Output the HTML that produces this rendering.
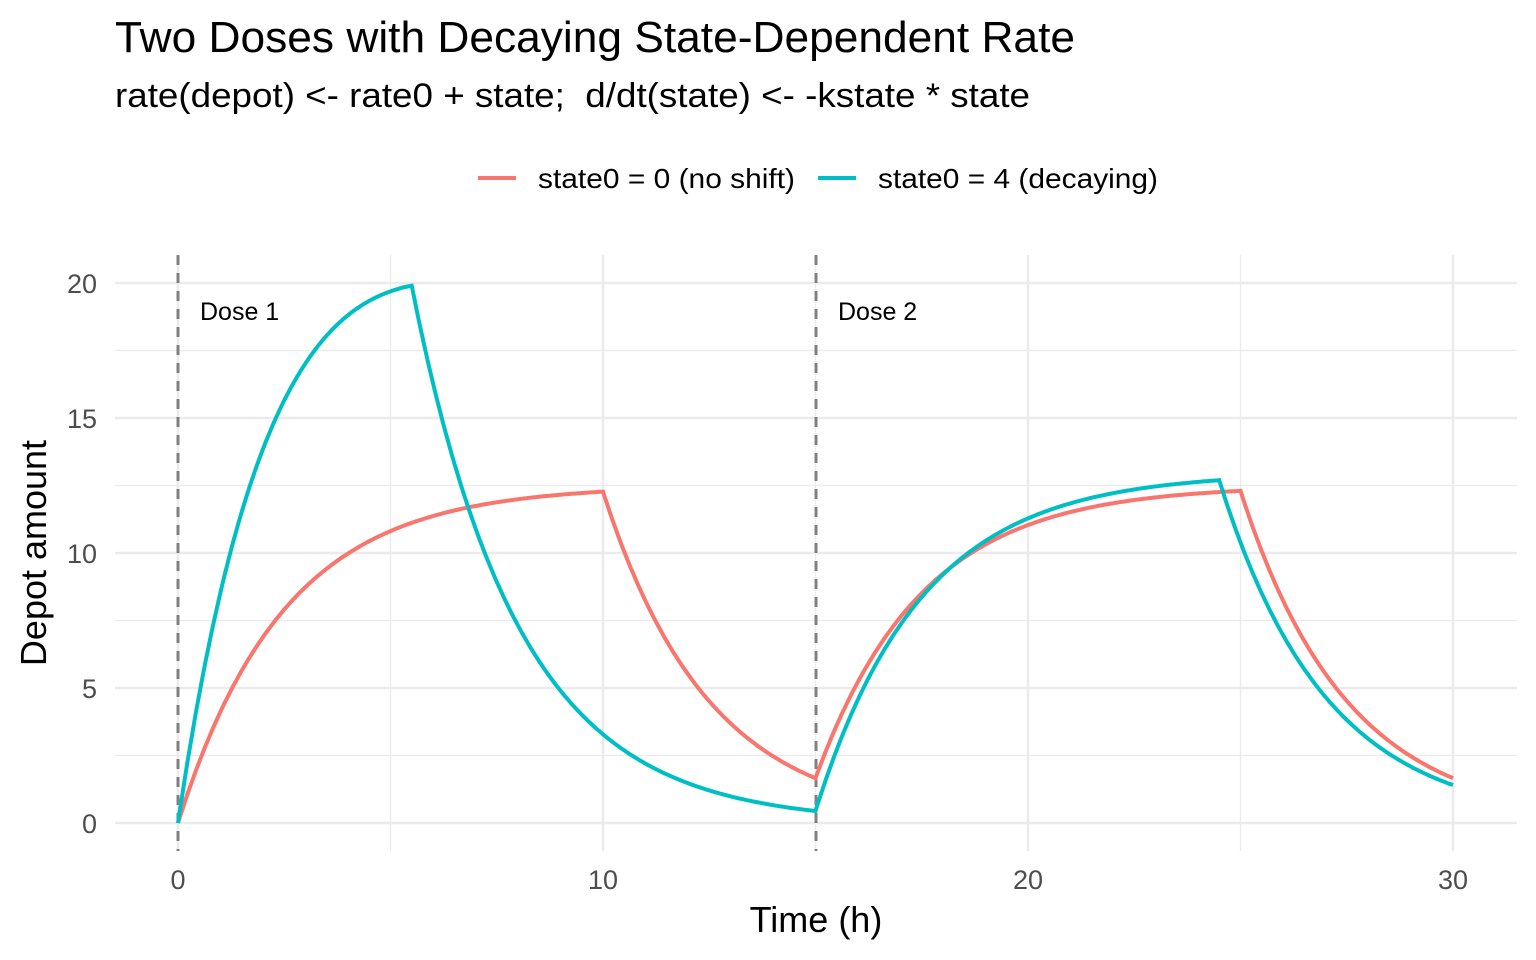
<!DOCTYPE html>
<html><head><meta charset="utf-8"><style>
html,body{margin:0;padding:0;background:#fff;}
svg{display:block;font-family:"Liberation Sans",sans-serif;}
</style></head><body>
<svg id="s" width="1536" height="960" viewBox="0 0 1536 960">
<text x="115" y="52" font-size="44" fill="#000" textLength="960" lengthAdjust="spacingAndGlyphs">Two Doses with Decaying State-Dependent Rate</text>
<text x="115" y="107" font-size="34" fill="#000" textLength="915" lengthAdjust="spacingAndGlyphs" xml:space="preserve">rate(depot) &lt;- rate0 + state;  d/dt(state) &lt;- -kstate * state</text>
<line x1="478" y1="178" x2="516" y2="178" stroke="#F8766D" stroke-width="4"/>
<text x="538" y="188" font-size="28" fill="#000" textLength="257" lengthAdjust="spacingAndGlyphs">state0 = 0 (no shift)</text>
<line x1="818" y1="178" x2="856" y2="178" stroke="#00BFC4" stroke-width="4"/>
<text x="878" y="188" font-size="28" fill="#000" textLength="280" lengthAdjust="spacingAndGlyphs">state0 = 4 (decaying)</text>
<g id="grid"></g>
<g font-size="27" fill="#4D4D4D">
<text x="97" y="833" text-anchor="end">0</text>
<text x="97" y="698" text-anchor="end">5</text>
<text x="97" y="563" text-anchor="end">10</text>
<text x="97" y="428" text-anchor="end">15</text>
<text x="97" y="293" text-anchor="end">20</text>
<text x="178" y="889" text-anchor="middle">0</text>
<text x="603" y="889" text-anchor="middle">10</text>
<text x="1028" y="889" text-anchor="middle">20</text>
<text x="1453" y="889" text-anchor="middle">30</text>
</g>
<text x="816" y="932" font-size="36" text-anchor="middle" fill="#000">Time (h)</text>
<text transform="translate(46,553) rotate(-90)" font-size="36" text-anchor="middle" fill="#000">Depot amount</text>
<line x1="178" y1="255" x2="178" y2="851" stroke="#808080" stroke-width="3" stroke-dasharray="10,8"/>
<line x1="816" y1="255" x2="816" y2="851" stroke="#808080" stroke-width="3" stroke-dasharray="10,8"/>
<text x="200" y="320" font-size="25" fill="#000">Dose 1</text>
<text x="838" y="320" font-size="25" fill="#000">Dose 2</text>
<path id="red" fill="none" stroke="#F8766D" stroke-width="4"/>
<path id="teal" fill="none" stroke="#00BFC4" stroke-width="4"/>
</svg>
<script>
var X=t=>178+42.5*t, Y=a=>823-27*a, k=0.4;
var g='';
[0,10,20,30].forEach(v=>g+=`<line x1="${X(v)}" y1="255" x2="${X(v)}" y2="851" stroke="#EBEBEB" stroke-width="2.5"/>`);
[5,15,25].forEach(v=>g+=`<line x1="${X(v)}" y1="255" x2="${X(v)}" y2="851" stroke="#EBEBEB" stroke-width="1.3"/>`);
[0,5,10,15,20].forEach(v=>g+=`<line x1="115" y1="${Y(v)}" x2="1517" y2="${Y(v)}" stroke="#EBEBEB" stroke-width="2.5"/>`);
[2.5,7.5,12.5,17.5].forEach(v=>g+=`<line x1="115" y1="${Y(v)}" x2="1517" y2="${Y(v)}" stroke="#EBEBEB" stroke-width="1.3"/>`);
document.getElementById('grid').innerHTML=g;
function sim(segs){
  var a=0,dt=0.005,d='M'+X(0)+' '+Y(0);
  for(var t=0;t<30-1e-9;t+=dt){
    var r=0;segs.forEach(s=>{if(t>=s[0]-1e-9&&t<s[1]-1e-9)r=s[2](t-s[0]);});
    a+=(r-k*a)*dt;
    if(Math.round((t+dt)/dt)%10==0)d+='L'+X(t+dt).toFixed(1)+' '+Y(a).toFixed(1);
  }
  return d;
}
document.getElementById('red').setAttribute('d',sim([[0,10,()=>5],[15,25,()=>5]]));
document.getElementById('teal').setAttribute('d',sim([[0,5.5,u=>5+5.65*Math.exp(-0.1*u)],[15,24.5,()=>5.19]]));
</script>
</body></html>
